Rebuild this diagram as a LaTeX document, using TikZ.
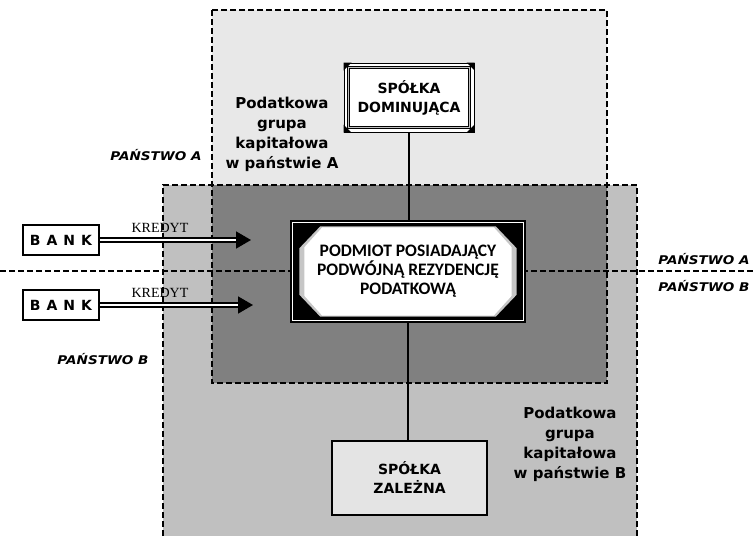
\documentclass[tikz,border=0pt]{standalone}
\usepackage{fontspec}
\setmainfont{DejaVu Sans}
\newfontfamily\calfont{Carlito}
\newfontfamily\serfont{Liberation Serif}
\newfontfamily\widefont[FakeStretch=1.13]{DejaVu Sans}
\usepackage{tikz}
\usetikzlibrary{arrows.meta,calc}
\definecolor{zoneA}{RGB}{232,232,232}
\definecolor{zoneB}{RGB}{192,192,192}
\definecolor{zoneAB}{RGB}{128,128,128}
\definecolor{zalfill}{RGB}{228,228,228}

\begin{document}
\begin{tikzpicture}[x=1pt,y=-1pt,line join=miter,
  border/.style={dash pattern=on 6pt off 3pt,line width=1.8pt},
  grouptext/.style={align=center,inner sep=0pt,font=\fontsize{15}{20}\selectfont\bfseries},
  country/.style={inner sep=0pt,font=\widefont\fontsize{12}{14}\selectfont\bfseries\itshape},
  credit/.style={inner sep=0pt,font=\serfont\fontsize{14}{16}\selectfont},
  bankbox/.style={draw,line width=2.6pt,fill=white,minimum width=76pt,minimum height=30pt,inner sep=0pt,font=\fontsize{14}{16}\selectfont\bfseries},
  loan/.style={line width=1.6pt,double=white,double distance=2.4pt,-{Triangle[length=15pt,width=17pt]}},
  frame/.style={draw,fill=white,inner sep=0pt},
  boxtext/.style={align=center,inner sep=0pt,font=\fontsize{14}{19}\selectfont\bfseries}]
  \useasboundingbox (0,0) rectangle (753,536);
  \fill[zoneB] (163,185) rectangle (637,536);
  \fill[zoneA] (212,10) rectangle (607,383);
  \fill[zoneAB] (212,185) rectangle (607,383);
  \draw[border] (212,10) rectangle (607,383);
  \draw[border] (163,536) -- (163,185) -- (637,185) -- (637,536);
  \draw[border] (0,271) -- (753,271);

  \node[frame,line width=1pt,minimum width=130pt,minimum height=69pt] (DOM) at (409,97.5) {};
  \foreach \c/\sx/\sy in {north west/1/1,north east/-1/1,south west/1/-1,south east/-1/-1}
    \fill (DOM.\c) -- ++(8*\sx,0) -- ++(-8*\sx,8*\sy) -- cycle;
  \draw[line width=1pt,double=gray!50,double distance=1.6pt] ($(DOM.north west)+(5,5)$) rectangle ($(DOM.south east)+(-5,-5)$);
  \node[boxtext] (DOMTXT) at (DOM.center) {SPÓŁKA\\DOMINUJĄCA};

  \node[frame,line width=1.4pt,minimum width=234pt,minimum height=101pt] (DUAL) at (408,271.5) {};
  \fill ($(DUAL.north west)+(2.5,2.5)$) rectangle ($(DUAL.south east)+(-2.5,-2.5)$);
  \fill[gray!45] ($(DUAL.north west)+(30,6)$) -- ($(DUAL.north east)+(-30,6)$) -- ($(DUAL.north east)+(-9,28)$)
    -- ($(DUAL.south east)+(-9,-28)$) -- ($(DUAL.south east)+(-30,-6)$) -- ($(DUAL.south west)+(30,-6)$)
    -- ($(DUAL.south west)+(9,-28)$) -- ($(DUAL.north west)+(9,28)$) -- cycle;
  \fill[white] ($(DUAL.north west)+(32,7)$) -- ($(DUAL.north east)+(-32,7)$) -- ($(DUAL.north east)+(-14,27)$)
    -- ($(DUAL.south east)+(-14,-27)$) -- ($(DUAL.south east)+(-32,-7)$) -- ($(DUAL.south west)+(32,-7)$)
    -- ($(DUAL.south west)+(14,-27)$) -- ($(DUAL.north west)+(14,27)$) -- cycle;
  \node[align=center,inner sep=0pt,font=\calfont\fontsize{17.5}{19}\selectfont\bfseries] (DUALTXT) at (408,271)
    {PODMIOT POSIADAJĄCY\\PODWÓJNĄ REZYDENCJĘ\\PODATKOWĄ};

  \node[frame,fill=zalfill,line width=2.5pt,minimum width=155pt,minimum height=74pt] (ZAL) at (409.5,478) {};
  \node[boxtext] (ZALTXT) at (ZAL.center) {SPÓŁKA\\ZALEŻNA};

  \draw[line width=1.3pt] (DOM.south) -- (DOM.south |- DUAL.north);
  \draw[line width=1.3pt] (DUAL.south) -- (DUAL.south |- ZAL.north);

  \node[bankbox] (BANK1) at (61,240) {B\hspace{6pt}A\hspace{6pt}N\hspace{6pt}K};
  \node[bankbox] (BANK2) at (61,305) {B\hspace{6pt}A\hspace{6pt}N\hspace{6pt}K};
  \coordinate (TIP1) at (251,240);
  \coordinate (TIP2) at (253,305);
  \draw[loan] (BANK1.east) -- (TIP1);
  \draw[loan] (BANK2.east) -- (TIP2);
  \node[credit] (KRED1) at (160,228) {KREDYT};
  \node[credit] (KRED2) at (160,293) {KREDYT};

  \node[grouptext] (GRPA) at (282,134) {Podatkowa\\grupa\\kapitałowa\\w państwie A};
  \node[grouptext] (GRPB) at (570,444) {Podatkowa\\grupa\\kapitałowa\\w państwie B};

  \node[country] (PAL) at (156,155) {PAŃSTWO A};
  \node[country] (PBL) at (103,359) {PAŃSTWO B};
  \node[country] (PAR) at (704,259) {PAŃSTWO A};
  \node[country] (PBR) at (704,286) {PAŃSTWO B};
\end{tikzpicture}
\end{document}
